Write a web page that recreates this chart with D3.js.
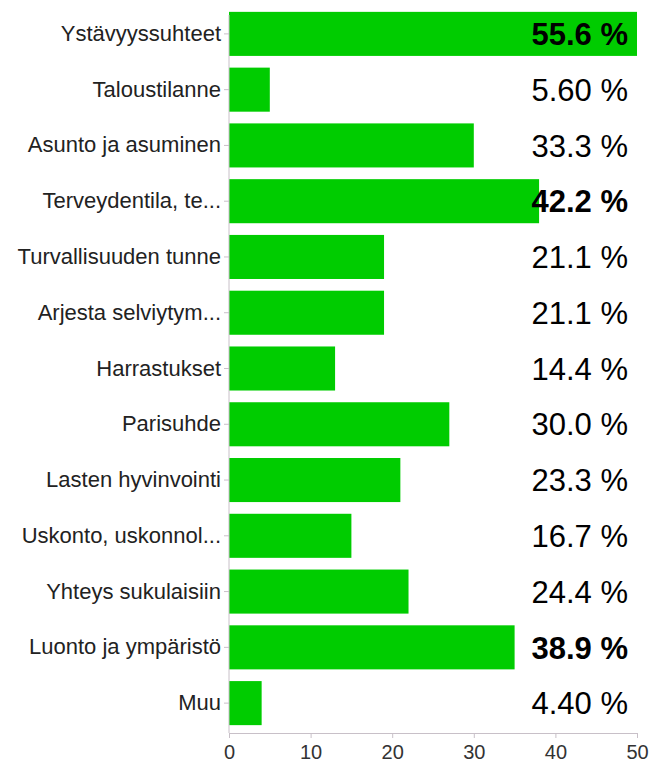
<!DOCTYPE html>
<html><head><meta charset="utf-8">
<script src="https://cdn.jsdelivr.net/npm/d3@7"></script>
<style>body{margin:0;background:#fff}</style>
</head><body>
<svg id="c" width="653" height="763"></svg>
<script>
const categories = ["Ystävyyssuhteet","Taloustilanne","Asunto ja asuminen","Terveydentila, te...","Turvallisuuden tunne","Arjesta selviytym...","Harrastukset","Parisuhde","Lasten hyvinvointi","Uskonto, uskonnol...","Yhteys sukulaisiin","Luonto ja ympäristö","Muu"];
const counts = [50,5,30,38,19,19,13,27,21,15,22,35,4];
const percents = ["55.6 %","5.60 %","33.3 %","42.2 %","21.1 %","21.1 %","14.4 %","30.0 %","23.3 %","16.7 %","24.4 %","38.9 %","4.40 %"];
const xTicks = [0,10,20,30,40,50];

const svg = d3.select("#c");
const x = d3.scaleLinear().domain([0,50]).range([229,637]);
const y = d3.scaleBand().domain(categories).range([6,731]).paddingInner(0.21).paddingOuter(0.105);
const font = "'Liberation Sans', Arial, Helvetica, sans-serif";
const top3 = counts.slice().sort((a,b)=>b-a)[2];

svg.selectAll("rect.bar").data(categories).enter().append("rect")
  .attr("x", x(0)).attr("y", d=>y(d))
  .attr("width", (d,i)=>x(counts[i])-x(0))
  .attr("height", y.bandwidth())
  .attr("fill","#00cc00");

// y axis
const ya = svg.append("g").attr("transform",`translate(${x(0)},0)`)
  .call(d3.axisLeft(y).tickSize(5).tickSizeOuter(0).tickPadding(3));
ya.select(".domain").attr("stroke","#c8c0c8").attr("d",`M0,15V733`);
ya.selectAll(".tick line").attr("stroke","#c8c0c8");
ya.selectAll(".tick text").attr("font-family",font).attr("font-size",22).attr("fill","#222");

// x axis
const xa = svg.append("g").attr("transform",`translate(0,733)`)
  .call(d3.axisBottom(x).tickValues(xTicks).tickSize(5).tickSizeOuter(0).tickPadding(7));
xa.select(".domain").attr("stroke","#c8c0c8");
xa.selectAll(".tick line").attr("stroke","#c8c0c8");
xa.selectAll(".tick text").attr("font-family",font).attr("font-size",20).attr("fill","#333");

svg.selectAll("text.pct").data(categories).enter().append("text")
  .attr("x",628).attr("y", d=>y(d)+y.bandwidth()/2)
  .attr("dy","0.36em").attr("text-anchor","end")
  .attr("font-family",font).attr("font-size",31)
  .attr("font-weight",(d,i)=>counts[i]>=top3?"bold":"normal")
  .attr("fill","#000")
  .text((d,i)=>percents[i]);
</script>
</body></html>
